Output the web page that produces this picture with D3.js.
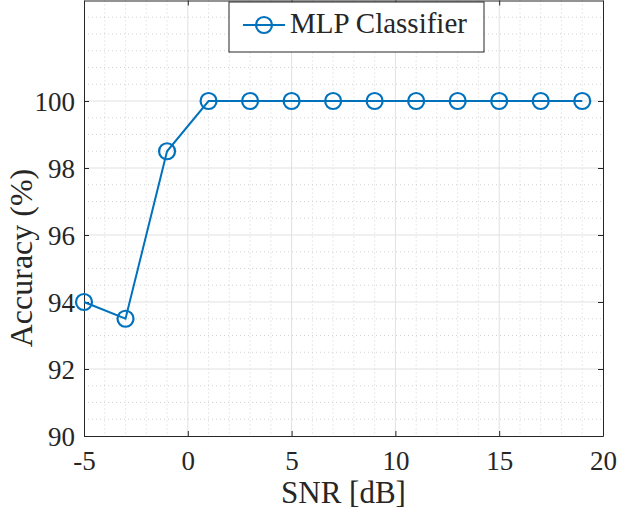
<!DOCTYPE html>
<html>
<head>
<meta charset="utf-8">
<script src="https://cdn.jsdelivr.net/npm/d3@7"></script>
<style>
  body { margin: 0; background: #fff; }
  svg text { font-family: 'Liberation Serif', serif !important; }
</style>
</head>
<body>
<svg id="chart" width="620" height="513" font-family="Liberation Serif"></svg>
<script>
// data
const snr = [-5, -3, -1, 1, 3, 5, 7, 9, 11, 13, 15, 17, 19];
const accuracy = [94, 93.5, 98.5, 100, 100, 100, 100, 100, 100, 100, 100, 100, 100];
const xTicks = [-5, 0, 5, 10, 15, 20];
const yTicks = [90, 92, 94, 96, 98, 100];
const seriesName = "MLP Classifier";

const W = 620, H = 513;
const margin = { top: 0.5, right: 17, bottom: 77, left: 84 };
const width = W - margin.left - margin.right;
const height = H - margin.top - margin.bottom;
const blue = "#0072BD";
const ink = "#262626";
const serif = "Liberation Serif";

const svg = d3.select("#chart");

const g = svg.append("g")
  .attr("transform", `translate(${margin.left}, ${margin.top})`);

const x = d3.scaleLinear().domain([-5, 20]).range([0, width]);
const y = d3.scaleLinear().domain([90, 103]).range([height, 0]);

// minor dotted grid
g.append("g").selectAll("line")
  .data(d3.range(-4, 20, 1).filter(d => d % 5 !== 0))
  .join("line")
    .attr("x1", d => x(d)).attr("x2", d => x(d))
    .attr("y1", 0).attr("y2", height)
    .attr("stroke", "#c8c8c8").attr("stroke-width", 0.8)
    .attr("stroke-dasharray", "1,3");

g.append("g").selectAll("line")
  .data(d3.range(90.5, 103, 0.5).filter(d => !yTicks.includes(d)))
  .join("line")
    .attr("x1", 0).attr("x2", width)
    .attr("y1", d => y(d)).attr("y2", d => y(d))
    .attr("stroke", "#c8c8c8").attr("stroke-width", 0.8)
    .attr("stroke-dasharray", "1,3");

// major grid
g.append("g").selectAll("line")
  .data(xTicks.slice(1, -1))
  .join("line")
    .attr("x1", d => x(d)).attr("x2", d => x(d))
    .attr("y1", 0).attr("y2", height)
    .attr("stroke", "#e1e1e1").attr("stroke-width", 1);

g.append("g").selectAll("line")
  .data(yTicks.slice(1))
  .join("line")
    .attr("x1", 0).attr("x2", width)
    .attr("y1", d => y(d)).attr("y2", d => y(d))
    .attr("stroke", "#e1e1e1").attr("stroke-width", 1);

// axes (inward ticks, MATLAB style)
const fmt = d => String(d); // plain hyphen for negatives
const xAxis = g.append("g")
  .attr("transform", `translate(0, ${height})`)
  .call(d3.axisBottom(x).tickValues(xTicks).tickSizeInner(-5).tickSizeOuter(0).tickFormat(fmt));
const xAxisTop = g.append("g")
  .call(d3.axisTop(x).tickValues(xTicks).tickSizeInner(-5).tickSizeOuter(0).tickFormat(""));
const yAxis = g.append("g")
  .call(d3.axisLeft(y).tickValues(yTicks).tickSizeInner(-5).tickSizeOuter(0).tickPadding(9).tickFormat(fmt));
const yAxisRight = g.append("g")
  .attr("transform", `translate(${width}, 0)`)
  .call(d3.axisRight(y).tickValues(yTicks).tickSizeInner(-5).tickSizeOuter(0).tickFormat(""));

[xAxis, xAxisTop, yAxis, yAxisRight].forEach(a => {
  a.attr("font-family", serif).attr("font-size", 27);
  a.select(".domain").attr("stroke", ink).attr("stroke-width", 1);
  a.selectAll(".tick line").attr("stroke", ink);
  a.selectAll("text").attr("fill", ink).attr("font-family", serif).attr("font-size", 27);
});
xAxis.selectAll("text").attr("y", 34).attr("dy", 0);
yAxis.selectAll("text").attr("dy", "0.34em");

// series
const line = d3.line().x((d, i) => x(snr[i])).y(d => y(d));

g.append("path")
  .datum(accuracy)
  .attr("d", line)
  .attr("fill", "none")
  .attr("stroke", blue)
  .attr("stroke-width", 2);

g.append("g").selectAll("circle")
  .data(accuracy)
  .join("circle")
    .attr("cx", (d, i) => x(snr[i]))
    .attr("cy", d => y(d))
    .attr("r", 8)
    .attr("fill", "none")
    .attr("stroke", blue)
    .attr("stroke-width", 2.2);

// axis labels
svg.append("text")
  .attr("x", margin.left + width / 2)
  .attr("y", 503)
  .attr("text-anchor", "middle")
  .attr("font-family", serif)
  .attr("font-size", 31)
  .attr("fill", ink)
  .text("SNR [dB]");

svg.append("text")
  .attr("transform", "translate(32, 258) rotate(-90)")
  .attr("text-anchor", "middle")
  .attr("font-family", serif)
  .attr("font-size", 32)
  .attr("fill", ink)
  .text("Accuracy (%)");

// legend
const legend = svg.append("g").attr("transform", "translate(229, 2)");
legend.append("rect")
  .attr("width", 255).attr("height", 50)
  .attr("fill", "#fff").attr("stroke", ink).attr("stroke-width", 1);
legend.append("line")
  .attr("x1", 14).attr("x2", 56).attr("y1", 23).attr("y2", 23)
  .attr("stroke", blue).attr("stroke-width", 2);
legend.append("circle")
  .attr("cx", 35).attr("cy", 23).attr("r", 8)
  .attr("fill", "none").attr("stroke", blue).attr("stroke-width", 2.2);
legend.append("text")
  .attr("x", 61).attr("y", 31)
  .attr("font-family", serif)
  .attr("font-size", 29)
  .attr("fill", ink)
  .text(seriesName);
</script>
</body>
</html>
